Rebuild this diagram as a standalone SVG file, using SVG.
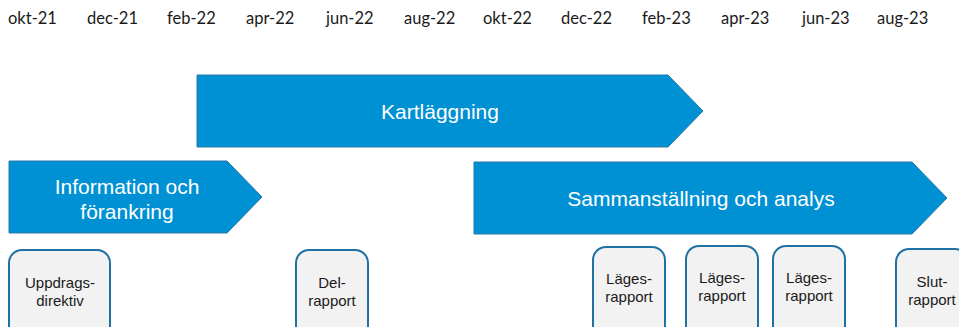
<svg xmlns="http://www.w3.org/2000/svg" width="959" height="327" viewBox="0 0 959 327">
  <style>
    .month { font-family: "Lato", "Liberation Sans", sans-serif; font-size: 16.5px; fill: #1a1a1a; }
    .phase { fill: #0091D4; stroke: #2A78A8; stroke-width: 1; }
    .phase-label { font-family: "Liberation Sans", Arial, sans-serif; font-size: 21px; fill: #ffffff; text-anchor: middle; }
    .milestone { fill: #F2F2F2; stroke: #1F71A3; stroke-width: 2; }
    .milestone-label { font-family: "Liberation Sans", Arial, sans-serif; font-size: 15px; fill: #1a1a1a; text-anchor: middle; }
  </style>
  <rect width="959" height="327" fill="#ffffff"/>

  <!-- month axis -->
  <g id="timeline">
    <text class="month" x="8" y="24">okt-21</text>
    <text class="month" x="87" y="24">dec-21</text>
    <text class="month" x="167" y="24">feb-22</text>
    <text class="month" x="246" y="24">apr-22</text>
    <text class="month" x="326" y="24">jun-22</text>
    <text class="month" x="404" y="24">aug-22</text>
    <text class="month" x="483" y="24">okt-22</text>
    <text class="month" x="561" y="24">dec-22</text>
    <text class="month" x="642" y="24">feb-23</text>
    <text class="month" x="721" y="24">apr-23</text>
    <text class="month" x="802" y="24">jun-23</text>
    <text class="month" x="877" y="24">aug-23</text>
  </g>

  <!-- phases -->
  <g id="kartlaggning">
    <polygon class="phase" points="197,75 668,75 703,111 668,147 197,147"/>
    <text class="phase-label" x="440" y="119">Kartläggning</text>
  </g>
  <g id="information">
    <polygon class="phase" points="9,161 227,161 262,197 227,233 9,233"/>
    <text class="phase-label" x="127" y="194">Information och</text>
    <text class="phase-label" x="127" y="219">förankring</text>
  </g>
  <g id="sammanstallning">
    <polygon class="phase" points="474,162 912,162 947,198 912,234 474,234"/>
    <text class="phase-label" x="701" y="206">Sammanställning och analys</text>
  </g>

  <!-- milestones -->
  <g id="uppdragsdirektiv">
    <rect class="milestone" x="9" y="250" width="101" height="95" rx="13"/>
    <text class="milestone-label" x="60" y="288">Uppdrags-</text>
    <text class="milestone-label" x="60" y="306">direktiv</text>
  </g>
  <g id="delrapport">
    <rect class="milestone" x="296" y="250" width="72" height="95" rx="13"/>
    <text class="milestone-label" x="332" y="288">Del-</text>
    <text class="milestone-label" x="332" y="306">rapport</text>
  </g>
  <g id="lagesrapport-1">
    <rect class="milestone" x="593" y="247" width="72" height="95" rx="13"/>
    <text class="milestone-label" x="629" y="284">Läges-</text>
    <text class="milestone-label" x="629" y="302">rapport</text>
  </g>
  <g id="lagesrapport-2">
    <rect class="milestone" x="686" y="246" width="72" height="95" rx="13"/>
    <text class="milestone-label" x="722" y="283">Läges-</text>
    <text class="milestone-label" x="722" y="301">rapport</text>
  </g>
  <g id="lagesrapport-3">
    <rect class="milestone" x="773" y="246" width="72" height="95" rx="13"/>
    <text class="milestone-label" x="809" y="283">Läges-</text>
    <text class="milestone-label" x="809" y="301">rapport</text>
  </g>
  <g id="slutrapport">
    <rect class="milestone" x="896" y="249" width="72" height="95" rx="13"/>
    <text class="milestone-label" x="932" y="287">Slut-</text>
    <text class="milestone-label" x="932" y="305">rapport</text>
  </g>

  <g id="connectors"/>
</svg>
